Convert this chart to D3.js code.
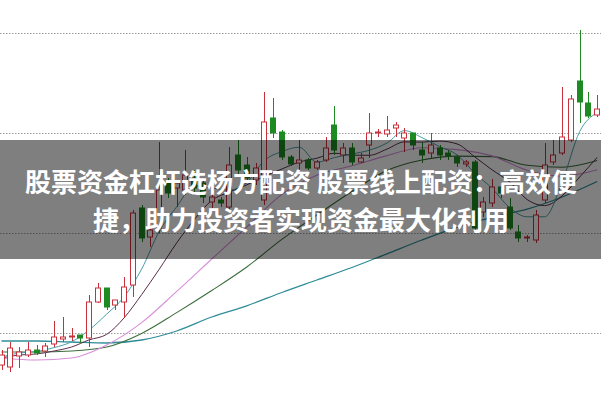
<!DOCTYPE html>
<html><head><meta charset="utf-8">
<script src="https://cdn.jsdelivr.net/npm/d3@7"></script>
<style>html,body{margin:0;padding:0;background:#fff;overflow:hidden}svg{display:block}</style>
</head><body>
<svg id="chart" width="601" height="401"></svg>
<script>
// ---- data (price units) ----
const openP  = [6.8,6.6,7.7,7.8,8.3,8.2,8.9,9.4,9.6,9.8,9.5,13.1,14.5,12.8,13.1,14.8,22.5,19.6,20.5,25.1,24.5,24.3,25.5,25.0,23.1,23.3,22.6,27.8,26.8,25.3,23.3,31.5,30.1,27.6,27.0,27.3,26.5,27.3,30.8,27.8,28.5,27.1,28.8,30.0,29.9,30.5,29.5,30.0,28.3,28.0,28.5,28.0,27.6,26.9,27.1,22.1,23.0,24.6,22.6,20.1,19.5,19.3,23.3,27.1,28.0,29.3,35.2,33.0,31.8];
const highP  = [8.3,9.1,8.6,9.1,8.8,9.0,11.2,11.6,10.5,9.8,13.8,15.0,14.5,13.3,15.6,22.3,22.8,20.8,29.1,25.5,25.3,28.3,26.3,25.5,24.0,23.6,28.6,29.3,27.6,27.0,34.1,33.5,30.3,27.8,29.3,27.5,27.3,29.6,32.7,29.0,29.0,28.0,32.0,30.4,31.7,31.1,30.5,30.0,29.1,30.0,28.8,28.3,27.8,27.3,27.3,23.6,25.4,25.1,23.5,20.8,19.8,22.3,29.0,29.3,34.6,33.8,40.3,34.1,33.8];
const lowP   = [6.3,6.1,6.5,7.6,7.8,7.6,8.6,9.1,9.2,9.0,8.6,13.0,12.3,12.3,11.5,13.6,19.1,18.6,20.0,23.5,22.6,23.8,23.8,23.0,22.5,22.6,22.3,25.8,25.0,24.8,22.8,29.5,27.3,26.7,26.3,26.3,26.3,27.1,27.8,27.0,26.8,27.0,27.5,29.6,29.6,29.6,28.1,28.3,27.0,27.5,27.3,27.3,26.6,26.6,20.3,21.6,22.6,23.5,20.3,19.1,19.1,19.0,23.0,26.8,27.8,29.1,31.0,31.5,31.6];
const closeP = [7.8,8.5,8.1,8.3,8.0,8.7,9.6,9.6,9.7,9.5,13.1,14.5,12.6,13.3,14.6,22.0,19.5,20.3,24.3,24.0,25.0,25.8,24.5,23.6,23.6,23.0,26.8,26.3,25.5,26.5,31.1,30.0,27.6,26.9,27.3,26.5,27.1,28.5,28.3,28.5,27.1,27.5,30.0,30.1,30.3,30.8,30.0,28.8,27.8,28.8,27.8,27.7,27.0,27.1,20.5,23.1,24.6,24.0,20.5,19.5,19.6,21.8,26.8,27.8,29.6,33.4,33.1,31.7,32.4];

// moving-average lines, read at sampled candle indices
const maIdx2 = [0,2,4,6,8,10,12,14,16,18,20,22,24,26,28,30,32,34,36,38,40,42,44,46,48,50,52,54,56,58,60,62,64,66,68];
const ma5  = [7.6,8.0,8.14,8.54,9.12,10.3,11.88,13.62,16.4,20.14,22.62,24.72,24.5,24.3,25.04,27.24,28.14,28.58,27.08,27.54,27.9,28.28,29.0,30.24,29.54,28.64,27.82,26.02,24.46,22.54,21.62,21.62,25.1,30.14,32.04];
const ma10 = [7.5,7.8,7.9,8.2,8.6,9.31,9.86,11.52,13.84,16.37,19.01,21.33,23.26,24.09,24.81,25.67,26.4,27.1,27.48,27.98,27.78,27.77,28.39,29.11,29.09,29.19,28.91,27.63,26.32,25.11,23.35,22.74,23.72,25.6,27.56];
const maIdx4 = [0,4,8,12,16,20,24,28,32,36,40,44,48,52,56,60,64,68];
const ma20 = [7.5,7.3,7.5,8.8,11.04,14.16,17.4,20.6,23.86,25.78,26.72,27.74,28.53,28.34,27.71,26.27,25.67,26.32];
const ma30 = [8.1,8.1,8.2,8.6,9.96,12.04,14.25,16.6,19.36,21.8,24.15,26.25,27.3,27.69,27.64,26.77,26.58,27.25];
const ma60 = [9.2,9.2,9.1,9.0,9.3,10.2,11.6,12.72,14.05,15.3,16.55,17.92,19.3,20.56,21.56,22.38,23.6,25.15];

const gridVals = [10,20,30,40];
const titleLines = ["股票资金杠杆选杨方配资 股票线上配资：高效便","捷，助力投资者实现资金最大化利用"];

// ---- drawing ----
const W = 601, H = 401;
const svg = d3.select("#chart");
const x = d3.scaleBand().domain(d3.range(openP.length)).range([-2.88, 601.56]).padding(0);
const y = d3.scaleLinear().domain([3.2, 43.3]).range([H, 0]);
const cx = i => x(i) + x.bandwidth() / 2;

// grid
svg.append("g").selectAll("line").data(gridVals).join("line")
  .attr("x1", 0).attr("x2", W)
  .attr("y1", d => Math.round(y(d)) + 0.5).attr("y2", d => Math.round(y(d)) + 0.5)
  .attr("stroke", "#9c9c9c").attr("stroke-width", 1).attr("stroke-dasharray", "1.5,1.5");

// MA lines
const maSets = [
  {idx: maIdx4, v: ma60, c: "#2f8d98", w: 1.3},
  {idx: maIdx4, v: ma30, c: "#3d6e3d", w: 1.1},
  {idx: maIdx4, v: ma20, c: "#d98fd9", w: 1.1},
  {idx: maIdx2, v: ma10, c: "#5b2e4c", w: 1.0},
  {idx: maIdx2, v: ma5,  c: "#4aa0a6", w: 1.0}
];
const lineGen = d3.line().curve(d3.curveMonotoneX);
maSets.forEach(s => {
  svg.append("path")
    .attr("d", lineGen(s.idx.map((k, j) => [cx(k), y(s.v[j])])))
    .attr("fill", "none").attr("stroke", s.c).attr("stroke-width", s.w);
});

// candles
const red = "#c8303c", green = "#1d8a22";
const cg = svg.append("g").selectAll("g").data(openP.map((o, i) => i)).join("g");
cg.append("line")
  .attr("x1", i => Math.round(cx(i)) + 0.5).attr("x2", i => Math.round(cx(i)) + 0.5)
  .attr("y1", i => y(highP[i])).attr("y2", i => y(lowP[i]))
  .attr("stroke", i => closeP[i] >= openP[i] ? red : green).attr("stroke-width", 1);
cg.append("rect")
  .attr("x", i => Math.round(cx(i)) - 2.5).attr("width", 5)
  .attr("y", i => y(Math.max(openP[i], closeP[i])))
  .attr("height", i => Math.max(1, Math.abs(y(openP[i]) - y(closeP[i]))))
  .attr("fill", i => closeP[i] >= openP[i] ? "#fff" : green)
  .attr("stroke", i => closeP[i] >= openP[i] ? red : green).attr("stroke-width", 1);

// overlay band + title
svg.append("rect").attr("x", 0).attr("y", 140).attr("width", W).attr("height", 119)
  .attr("fill", "rgba(0,0,0,0.5)");
svg.append("g").selectAll("text").data(titleLines).join("text")
  .attr("x", 301).attr("y", (d, i) => 192 + i * 38)
  .attr("text-anchor", "middle")
  .attr("font-family", "'Noto Sans CJK SC', 'Noto Sans', sans-serif")
  .attr("font-weight", "bold").attr("font-size", 26)
  .attr("fill", "#fff")
  .text(d => d);
</script>
</body></html>
